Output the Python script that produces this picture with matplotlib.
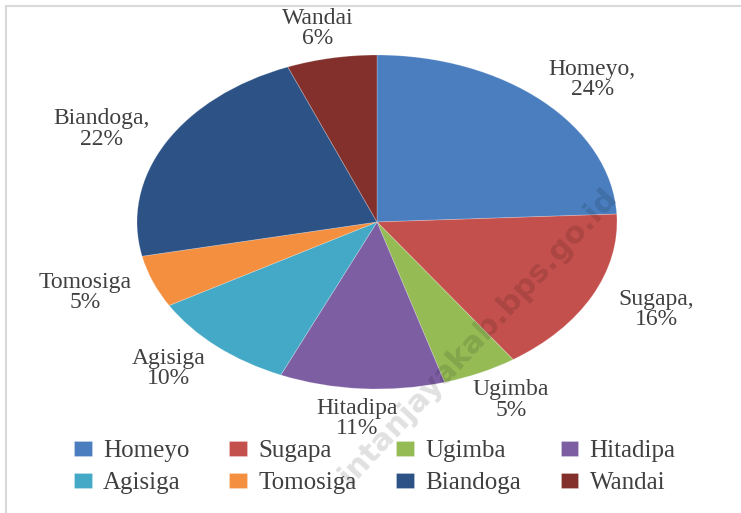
import numpy as np
import matplotlib.pyplot as plt
from matplotlib.patches import Rectangle

# data
districts = ['Homeyo', 'Sugapa', 'Ugimba', 'Hitadipa', 'Agisiga', 'Tomosiga', 'Biandoga', 'Wandai']
shares = [24, 16, 5, 11, 10, 5, 22, 6]
label_texts = ['Homeyo,\n24%', 'Sugapa,\n16%', 'Ugimba\n5%', 'Hitadipa\n11%',
               'Agisiga\n10%', 'Tomosiga\n5%', 'Biandoga,\n22%', 'Wandai\n6%']
colors = ['#4a7ebf', '#c4504d', '#95bb55', '#7d5ea3', '#44a9c6', '#f38f3e', '#2c5286', '#83302c']

plt.rcParams['font.family'] = ['Liberation Serif', 'DejaVu Serif']

W, H = 741, 513
fig = plt.figure(figsize=(W / 100, H / 100), dpi=100)
ax = fig.add_axes([0, 0, 1, 1])

# pie is squashed: radius 240 px wide, 167 px tall, centre at (377, 222)
cx, cy, rx, ry = 377, 222, 240, 167

wedges, _ = ax.pie(shares, colors=colors, startangle=90, counterclock=False,
                   radius=1, wedgeprops=dict(linewidth=0.6, edgecolor='#ffffff40'))
ax.set_aspect('auto')
ax.set_xlim(-cx / rx, (W - cx) / rx)
ax.set_ylim(-(H - cy) / ry, cy / ry)
ax.axis('off')

for w, txt in zip(wedges, label_texts):
    mid = np.deg2rad((w.theta1 + w.theta2) / 2)
    ax.text(1.3 * np.cos(mid), 1.18 * np.sin(mid), txt, ha='center', va='center',
            fontsize=17, color='#404040', linespacing=0.95)

# legend reads row by row, matplotlib fills columns -> reorder
order = [0, 4, 1, 5, 2, 6, 3, 7]
leg = fig.legend([wedges[i] for i in order], [districts[i] for i in order],
                 loc='center', bbox_to_anchor=(0.506, 0.089),
                 ncol=4, frameon=False, fontsize=18, handlelength=0.7, handleheight=0.5,
                 handletextpad=0.45, columnspacing=1.6, labelspacing=0.4, borderpad=0)
for t in leg.get_texts():
    t.set_color('#404040')

# watermark
fig.text(0.645, 0.345, 'intanjayakab.bps.go.id', rotation=47, ha='center', va='center',
         fontsize=22, fontweight='bold', family='DejaVu Sans', color='#000000', alpha=0.12)

# outer frame (only top and left are inside the picture)
fig.patches.append(Rectangle((6 / W, -0.1), 1.2, 1.1 - 6 / H, transform=fig.transFigure,
                             fill=False, edgecolor='#d9d9d9', linewidth=1.5))

fig.savefig('out.png', dpi=100)
